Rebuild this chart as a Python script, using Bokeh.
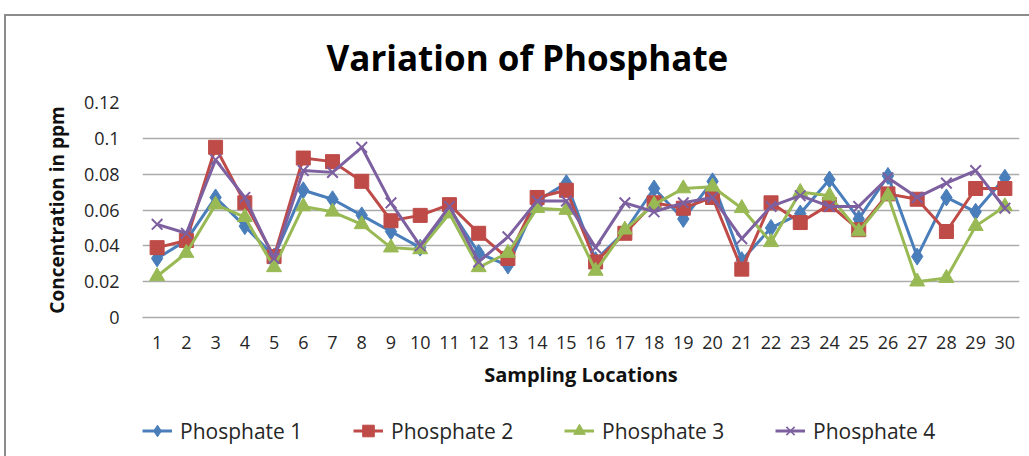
from bokeh.plotting import figure
from bokeh.layouts import column
from bokeh.models import FixedTicker, Legend, LegendItem, ColumnDataSource, Label
from bokeh.embed import file_html
from bokeh.resources import INLINE

locations = list(range(1, 31))
phosphate1 = [0.033, 0.043, 0.067, 0.051, 0.034, 0.071, 0.066, 0.057, 0.048, 0.039,
              0.061, 0.036, 0.029, 0.065, 0.075, 0.032, 0.048, 0.072, 0.055, 0.076,
              0.032, 0.050, 0.058, 0.077, 0.055, 0.079, 0.034, 0.067, 0.059, 0.078]
phosphate2 = [0.039, 0.043, 0.095, 0.064, 0.034, 0.089, 0.087, 0.076, 0.054, 0.057,
              0.063, 0.047, 0.033, 0.067, 0.071, 0.031, 0.047, 0.064, 0.061, 0.067,
              0.027, 0.064, 0.053, 0.063, 0.049, 0.069, 0.066, 0.048, 0.072, 0.072]
phosphate3 = [0.023, 0.036, 0.063, 0.056, 0.028, 0.062, 0.059, 0.052, 0.039, 0.038,
              0.058, 0.028, 0.036, 0.061, 0.060, 0.026, 0.049, 0.063, 0.072, 0.073,
              0.061, 0.042, 0.070, 0.068, 0.048, 0.068, 0.020, 0.022, 0.051, 0.062]
phosphate4 = [0.052, 0.047, 0.088, 0.067, 0.033, 0.082, 0.081, 0.095, 0.064, 0.040,
              0.062, 0.031, 0.045, 0.065, 0.065, 0.039, 0.064, 0.059, 0.064, 0.067,
              0.044, 0.062, 0.068, 0.062, 0.062, 0.078, 0.067, 0.075, 0.082, 0.061]
series_names = ["Phosphate 1", "Phosphate 2", "Phosphate 3", "Phosphate 4"]
yticks = [0, 0.02, 0.04, 0.06, 0.08, 0.1, 0.12]
ytick_labels = ["0", "0.02", "0.04", "0.06", "0.08", "0.1", "0.12"]
title_text = "Variation of Phosphate"
x_label = "Sampling Locations"
y_label = "Concentration in ppm"

colors = ["#4A7EBB", "#BE4B48", "#98B954", "#7D60A0"]
markers = ["diamond", "square", "triangle", "x"]
msizes = [17, 14, 15, 15]

FONT = "Open Sans"
TXT = "#262626"
BORDER = "2px solid #8c8c8c"
NAN = float("nan")

# ---------------- title strip ----------------
pt = figure(width=1025, height=66, output_backend="svg", toolbar_location=None,
            x_range=(0, 875), y_range=(0, 64), x_axis_location=None,
            y_axis_location=None, min_border_left=136, min_border_right=12,
            min_border_top=0, min_border_bottom=0)
pt.styles = {"margin-left": "4px", "margin-top": "14px",
             "border-left": BORDER, "border-top": BORDER}
pt.outline_line_color = None
pt.grid.visible = False
pt.add_layout(Label(x=384, y=24, text=title_text, text_align="center",
                    text_baseline="middle", text_font=FONT, text_font_style="bold",
                    text_font_size="35px", text_color="#000000"))

# ---------------- main chart ----------------
p = figure(width=1025, height=320, output_backend="svg", toolbar_location=None,
           x_range=(0.5, 30.5), y_range=(0, 0.12),
           min_border_left=136, min_border_right=12, min_border_top=22,
           min_border_bottom=83)
p.styles = {"margin-left": "4px", "border-left": BORDER}
p.outline_line_color = None
p.background_fill_color = "white"
p.border_fill_color = "white"

p.xgrid.grid_line_color = None
p.ygrid.ticker = FixedTicker(ticks=yticks)
p.ygrid.grid_line_color = "#ababab"
p.ygrid.grid_line_width = 1.5

p.yaxis.ticker = FixedTicker(ticks=yticks)
p.yaxis.major_label_overrides = {t: l for t, l in zip(yticks, ytick_labels)}
p.xaxis.ticker = FixedTicker(ticks=locations)
p.xaxis.major_label_overrides = {x: str(x) for x in locations}
for ax in (p.xaxis[0], p.yaxis[0]):
    ax.major_tick_line_color = None
    ax.minor_tick_line_color = None
    ax.major_label_text_font = FONT
    ax.major_label_text_font_size = "18px"
    ax.major_label_text_color = TXT
    ax.axis_label_text_font = FONT
    ax.axis_label_text_font_style = "bold"
    ax.axis_label_text_color = "#111111"
p.xaxis.axis_label_text_font_size = "20px"
p.yaxis.axis_label_text_font_size = "19px"
p.yaxis.axis_line_color = None
p.xaxis.axis_line_color = "#ababab"
p.xaxis.axis_line_width = 1.5
p.xaxis.axis_label = x_label
p.yaxis.axis_label = y_label
p.xaxis.major_label_standoff = 12
p.xaxis.axis_label_standoff = 9
p.yaxis.major_label_standoff = 17
p.yaxis.axis_label_standoff = 11

for ys, c, m, s in zip([phosphate1, phosphate2, phosphate3, phosphate4], colors, markers, msizes):
    src = ColumnDataSource(dict(x=locations, y=ys))
    p.line("x", "y", source=src, line_color=c, line_width=3)
    if m == "x":
        p.scatter("x", "y", source=src, marker=m, size=s, line_color=c, line_width=2)
    else:
        p.scatter("x", "y", source=src, marker=m, size=s, fill_color=c, line_color=c)

# ---------------- legend strip ----------------
p2 = figure(width=1025, height=56, output_backend="svg", toolbar_location=None,
            x_range=(0, 875), y_range=(0, 56), x_axis_location=None,
            y_axis_location=None, min_border_left=136, min_border_right=12,
            min_border_top=0, min_border_bottom=0)
p2.styles = {"margin-left": "4px", "border-left": BORDER}
p2.outline_line_color = None
p2.grid.visible = False
p2.background_fill_color = "white"
p2.border_fill_color = "white"

items = []
for name, c, m in zip(series_names, colors, markers):
    r1 = p2.line(x=[NAN], y=[NAN], line_color=c, line_width=3)
    if m == "x":
        r2 = p2.scatter(x=[NAN], y=[NAN], marker=m, line_color=c, line_width=1.5)
    else:
        r2 = p2.scatter(x=[NAN], y=[NAN], marker=m, fill_color=c, line_color=c)
    items.append(LegendItem(label=name, renderers=[r1, r2]))

legend = Legend(items=items, orientation="horizontal", location=(0, 11),
                glyph_width=30, glyph_height=29, label_height=24, label_standoff=8,
                label_width=173, spacing=0, padding=0, margin=0,
                border_line_color=None, background_fill_alpha=0,
                label_text_font=FONT, label_text_font_size="21px", label_text_color=TXT)
p2.add_layout(legend, "center")

layout = column(pt, p, p2, spacing=0)
open("out.html", "w").write(file_html(layout, INLINE))
